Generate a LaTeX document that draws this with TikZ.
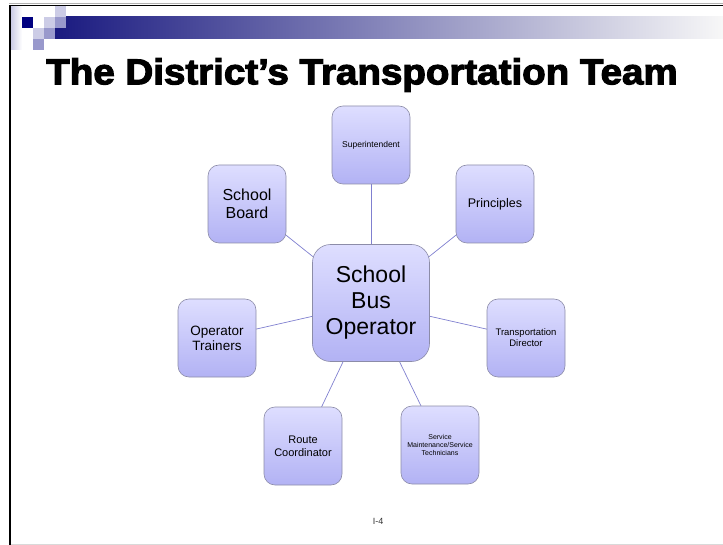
\documentclass[tikz,border=0pt]{standalone}
\usepackage{fontspec}
\setmainfont{Liberation Sans}
\newfontfamily\titlefont{Liberation Sans}[FakeBold=3]
\usetikzlibrary{backgrounds}
\definecolor{navy}{HTML}{000080}
\definecolor{lightsq}{HTML}{CCCCE6}
\definecolor{medsq}{HTML}{9999CC}
\definecolor{bardark}{HTML}{1A1A80}
\definecolor{boxtop}{HTML}{DEDEFF}
\definecolor{boxbot}{HTML}{B2B2F4}
\definecolor{boxborder}{HTML}{8C8CA8}
\definecolor{linkc}{HTML}{8080D0}
\begin{document}
\begin{tikzpicture}[x=1pt,y=-1pt,
  box/.style={draw=boxborder, line width=0.6pt, rounded corners=11pt,
    top color=boxtop, bottom color=boxbot, minimum width=78pt, minimum height=78pt,
    align=center, inner sep=2pt, text width=74pt},
  bigbox/.style={box, rounded corners=18pt, minimum width=117pt, minimum height=117pt, text width=110pt},
  link/.style={draw=linkc, line width=0.7pt}]
\useasboundingbox (0,0) rectangle (723,545);
% header decoration
\shade[left color=lightsq, right color=white] (11,6) rectangle (22,50);
\shade[left color=bardark, right color=white!97!black] (55,17) rectangle (723,39);
\fill[lightsq] (55,6) rectangle (66,17);
\fill[navy] (22,17) rectangle (33,28);
\fill[lightsq] (44,17) rectangle (55,28);
\fill[medsq] (55,17) rectangle (66,28);
\fill[lightsq] (33,28) rectangle (44,39);
\fill[medsq] (44,28) rectangle (55,39);
\fill[medsq] (33,39) rectangle (44,50);
% frame
\draw[gray!60, line width=0.6pt] (9,3.8) -- (723,3.8);
\draw[black, line width=1.6pt] (10,5.5) -- (723,5.5);
\draw[black, line width=1.6pt] (10,5.5) -- (10,545);
\draw[gray!30, line width=0.8pt] (11,544) -- (723,544);
% title
\node[font=\titlefont\bfseries\fontsize{36}{40}\selectfont, xscale=1.07] (title) at (362,75) {The District’s Transportation Team};
% nodes
\node[bigbox, font=\fontsize{23}{26}\selectfont] (op) at (371,303) {School\\Bus\\Operator};
\node[box, font=\fontsize{8.5}{10}\selectfont] (sup) at (371,145) {Superintendent};
\node[box, font=\fontsize{16}{18}\selectfont] (sb) at (247,204) {School\\Board};
\node[box, font=\fontsize{12.5}{14}\selectfont] (pr) at (495,204) {Principles};
\node[box, font=\fontsize{13.5}{15}\selectfont] (ot) at (217,338) {Operator\\Trainers};
\node[box, font=\fontsize{9.5}{11}\selectfont] (td) at (526,338) {Transportation\\Director};
\node[box, font=\fontsize{11}{13}\selectfont] (rc) at (303,446) {Route\\Coordinator};
\node[box, font=\fontsize{7}{8}\selectfont] (sm) at (440,445) {Service\\Maintenance/Service\\Technicians};
\node[font=\fontsize{9}{11}\selectfont, text=black!80] (pg) at (378,521) {I-4};
\begin{scope}[on background layer]
\foreach \n in {sup,sb,pr,ot,td,rc,sm}
  \draw[link] (op.center) -- (\n.center);
\end{scope}
\end{tikzpicture}
\end{document}
